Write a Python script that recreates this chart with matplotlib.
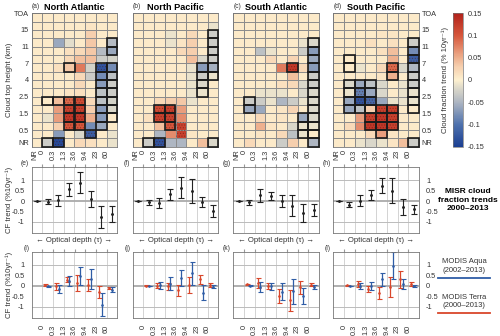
import numpy as np
import matplotlib
matplotlib.use("Agg")
import matplotlib.pyplot as plt
from matplotlib.colors import LinearSegmentedColormap
from matplotlib.patches import Rectangle
from matplotlib.lines import Line2D

plt.rcParams['font.family'] = ['Liberation Sans', 'DejaVu Sans']
plt.rcParams['hatch.linewidth'] = 0.5

regions = ["North Atlantic", "North Pacific", "South Atlantic", "South Pacific"]
tau_labels = ["NR", "0", "0.3", "1.3", "3.6", "9.4", "23", "60"]
cth_labels = ["NR", "0.5", "1.5", "2.5", "4", "7", "11", "15", "TOA"]

# MISR CTH-OD trend histograms (% per 10 yr), rows from top (17+ km) down to NR,
# columns NR, 0-0.3, 0.3-1.3, 1.3-3.6, 3.6-9.4, 9.4-23, 23-60, 60+
misr_na = [
    [.005, .005, .005, .005, .005, .005, .005, .005],
    [.005, .005, .005, .005, .005, .010, .005, .005],
    [.005, .005, .005, .005, .005, .030, .005, .005],
    [.005, .005, -.06, -.015, .005, .035, .005, -.045],
    [.005, .005, .005, .015, .020, .035, -.045, -.06],
    [.005, .005, .005, .020, .040, .040, -.030, -.025],
    [.005, .005, .015, .035, .080, -.025, -.13, -.08],
    [.005, .005, .005, .005, .020, -.030, -.08, -.04],
    [.005, .005, .005, .005, .020, .005, -.07, -.03],
    [.005, .005, .005, .010, .015, .005, -.04, -.03],
    [.005, .005, .040, .090, .110, .020, -.04, -.025],
    [.005, .005, .060, .120, .120, .030, -.07, -.02],
    [.005, -.01, .060, .130, .130, .050, -.07, .005],
    [.005, .005, .030, .100, .100, -.080, -.06, .005],
    [.005, .005, -.07, .005, -.02, -.120, .005, -.01],
    [.005, -.03, -.14, .005, .020, .015, .005, -.01],
]
misr_np = [
    [.005, .005, .005, .005, .005, .005, .005, .005],
    [.005, .005, .005, .005, .005, .005, .005, -.01],
    [.005, .005, .005, -.01, .005, .020, .005, -.03],
    [.005, .005, .005, -.01, .010, .030, .005, -.03],
    [.005, .005, .005, .005, .020, .030, .005, -.03],
    [.005, .005, .005, .005, .005, .040, -.02, -.03],
    [.005, .005, .005, .005, .005, -.010, -.07, -.055],
    [.005, .005, .005, .005, .005, -.010, -.03, -.01],
    [.005, .005, .005, .005, .005, -.010, -.02, .005],
    [.005, .005, .005, .005, .005, -.010, -.01, .005],
    [.005, .005, .020, .030, .035, -.010, .005, .005],
    [.005, .005, .110, .120, .060, .005, .005, .005],
    [.005, .015, .120, .120, .070, .005, .005, .005],
    [.005, .005, .040, .100, .120, .005, .005, .005],
    [.005, .005, -.05, .070, .120, .010, .005, .005],
    [.005, -.03, -.13, -.05, -.05, .005, .040, -.02],
]
misr_sa = [
    [.005, .005, .005, .005, .005, .005, .005, .005],
    [.005, .005, .005, .005, .005, .005, .005, .005],
    [.005, .005, .005, .005, .005, .005, .005, .005],
    [.005, .005, .005, .005, .005, .005, -.01, -.02],
    [.005, .005, -.04, -.01, .005, .005, -.03, -.07],
    [.005, .005, .005, .020, .005, .025, .005, -.06],
    [.005, .005, .005, .005, .080, .130, .020, -.07],
    [.005, .005, .005, .005, .005, .040, .005, -.03],
    [.005, .005, .005, .005, .015, .020, -.02, -.03],
    [.005, .005, -.01, -.01, -.01, .005, -.02, -.02],
    [.005, -.03, -.03, -.01, -.05, -.030, -.01, -.02],
    [.005, -.06, -.06, .005, .010, .025, .005, -.02],
    [.005, .005, .020, .005, .010, .005, -.06, -.02],
    [.005, .005, .050, .010, .005, -.020, -.01, -.01],
    [.005, .005, .010, .005, .020, -.040, -.01, .005],
    [.005, .020, .005, .005, -.03, .030, .005, -.05],
]
misr_sp = [
    [.005, .005, .005, .005, .005, .005, .005, .005],
    [.005, .005, .005, .005, .005, .005, .005, .005],
    [.005, .005, .005, .005, .010, .010, .005, .005],
    [.005, .005, .005, .015, .005, .015, .005, -.03],
    [.005, .005, .005, .005, .015, .040, .005, -.08],
    [.005, .005, .005, .005, .005, .050, .005, -.12],
    [.005, .005, -.01, .005, .020, .090, -.02, -.05],
    [.005, .005, .005, .005, .010, .050, .005, -.03],
    [.005, -.02, -.06, -.04, -.02, .005, -.01, -.03],
    [.005, -.01, -.09, -.06, -.02, .005, -.01, -.01],
    [.005, -.06, -.13, -.11, -.06, -.010, -.01, -.01],
    [.005, -.06, -.04, .030, .120, .120, .005, .005],
    [.005, .005, .060, .120, .130, .120, .005, .005],
    [.005, .020, .070, .130, .130, .120, .005, .005],
    [.005, .005, .005, .020, .060, .010, .005, .005],
    [.005, .005, -.01, -.02, -.01, .010, .040, -.03],
]

# significant cells (x), same row/column order
sig_na = ["........", "........", "........", ".......x", ".......x", "........",
          "...x..xx", "......xx", "......xx", "......xx", ".xxxx.xx", "...xx.xx",
          "...xx.xx", "...xx.x.", ".....x..", ".xx....."]
sig_np = ["........", "........", ".......x", ".......x", ".......x", ".......x",
          "......xx", "......xx", "......x.", "......x.", "........", "..xx....",
          "..xx....", "...x....", "........", ".xx....x"]
sig_sa = ["........", "........", "........", ".......x", ".......x", ".......x",
          ".....x.x", ".......x", ".......x", ".......x", ".x.....x", ".x.....x",
          "......xx", "......xx", "......xx", ".......x"]
sig_sp = ["........", "........", "........", ".......x", ".......x", ".x.....x",
          ".x...x.x", ".....x.x", ".xxx...x", ".xxx...x", ".xxx...x", ".xxxxx.x",
          "...xxx..", "...xxx..", "....x...", ".......x"]

# MISR total trends per optical depth bin (NR .. 60+), mean and uncertainty
misr_mean_e = [0.0, -0.03, 0.03, 0.57, 0.89, 0.10, -0.76, -0.64]
misr_err_e = [0.02, 0.13, 0.28, 0.32, 0.50, 0.40, 0.52, 0.38]
misr_mean_f = [0.0, -0.05, -0.10, 0.33, 0.65, 0.47, -0.05, -0.48]
misr_err_f = [0.02, 0.12, 0.25, 0.27, 0.52, 0.57, 0.24, 0.28]
misr_mean_g = [0.0, -0.06, 0.27, 0.25, 0.0, -0.22, -0.58, -0.43]
misr_err_g = [0.02, 0.13, 0.30, 0.18, 0.30, 0.50, 0.45, 0.30]
misr_mean_h = [0.0, -0.17, 0.02, 0.29, 0.73, 0.50, -0.28, -0.40]
misr_err_h = [0.02, 0.13, 0.28, 0.25, 0.36, 0.60, 0.37, 0.22]

# MODIS trends per optical depth bin (0-0.3 .. 60+)
terra_mean_i = [0.03, -0.03, 0.29, 0.14, 0.04, -0.29, -0.10]
terra_err_i = [0.03, 0.17, 0.12, 0.38, 0.29, 0.29, 0.06]
aqua_mean_i = [-0.02, -0.14, 0.22, 0.47, 0.33, -0.90, -0.18]
aqua_err_i = [0.02, 0.19, 0.24, 0.42, 0.47, 0.56, 0.12]
terra_mean_j = [0.01, 0.0, -0.03, -0.22, 0.04, 0.30, 0.03]
terra_err_j = [0.02, 0.13, 0.16, 0.27, 0.37, 0.20, 0.08]
aqua_mean_j = [0.0, 0.02, 0.09, 0.36, 0.60, -0.34, -0.04]
aqua_err_j = [0.01, 0.16, 0.31, 0.37, 0.55, 0.36, 0.07]
terra_mean_k = [0.06, 0.13, 0.0, -0.48, -0.70, -0.08, 0.05]
terra_err_k = [0.03, 0.24, 0.14, 0.33, 0.52, 0.30, 0.08]
aqua_mean_k = [0.0, -0.07, -0.03, -0.28, -0.26, -0.48, -0.06]
aqua_err_k = [0.02, 0.25, 0.16, 0.42, 0.60, 0.37, 0.08]
terra_mean_l = [0.02, 0.08, -0.16, -0.33, -0.06, 0.31, 0.07]
terra_err_l = [0.02, 0.16, 0.14, 0.28, 0.48, 0.40, 0.10]
aqua_mean_l = [0.0, 0.0, -0.01, 0.30, 0.95, 0.10, -0.02]
aqua_err_l = [0.01, 0.14, 0.18, 0.32, 0.65, 0.24, 0.06]

heat = [misr_na, misr_np, misr_sa, misr_sp]
sigs = [sig_na, sig_np, sig_sa, sig_sp]
misr_means = [misr_mean_e, misr_mean_f, misr_mean_g, misr_mean_h]
misr_errs = [misr_err_e, misr_err_f, misr_err_g, misr_err_h]
terra = [(terra_mean_i, terra_err_i), (terra_mean_j, terra_err_j),
         (terra_mean_k, terra_err_k), (terra_mean_l, terra_err_l)]
aqua = [(aqua_mean_i, aqua_err_i), (aqua_mean_j, aqua_err_j),
        (aqua_mean_k, aqua_err_k), (aqua_mean_l, aqua_err_l)]

cmap = LinearSegmentedColormap.from_list("trend", [
    (0.0, '#1B3F92'), (0.167, '#4F72AD'), (0.333, '#AEB6C2'), (0.45, '#E2DDCB'),
    (0.5, '#FDF0CF'), (0.6, '#F6CFAE'), (0.667, '#EEB08E'), (0.833, '#D6573C'),
    (1.0, '#B2221B')])
RED = '#D9472B'
BLUE = '#2F5DA6'
GRID = '#8c8c8c'
TXT = '#333333'
TICK = 5.3
LAB = 5.6
CF_LABEL = "CF trend (%10yr\u207b\u00b9)"

W, H = 500, 336


def box(x0, y0, x1, y1):
    return [x0 / W, 1 - y1 / H, (x1 - x0) / W, (y1 - y0) / H]


fig = plt.figure(figsize=(5, 3.36), dpi=100)
panel_x = [(31.7, 117.3), (132.7, 218.3), (233.3, 319.0), (333.3, 419.0)]
letters_top = ["(a)", "(b)", "(c)", "(d)"]
letters_mid = ["(e)", "(f)", "(g)", "(h)"]
letters_bot = ["(i)", "(j)", "(k)", "(l)"]
ylab_x = -0.215


def style_spines(ax):
    for s in ax.spines.values():
        s.set_color('#777777')
        s.set_linewidth(0.6)


def draw_guides(ax):
    for k in range(1, 8):
        ax.axvline(k, color='#cccccc', lw=0.6, zorder=0)
    ax.axhline(1, color='#bbbbbb', lw=0.7, zorder=0)
    ax.axhline(-1, color='#bbbbbb', lw=0.7, zorder=0)
    ax.axhline(0, color='#aaaaaa', lw=1.3, zorder=0)


for p, (x0, x1) in enumerate(panel_x):
    # ---- MISR histogram ----
    ax = fig.add_axes(box(x0, 13.3, x1, 146.7))
    vals = np.flipud(np.array(heat[p]))
    mesh = ax.pcolormesh(np.arange(9), np.arange(17), vals, cmap=cmap,
                         vmin=-0.15, vmax=0.15, edgecolors=GRID, linewidth=0.4)
    for r, row in enumerate(sigs[p]):
        for c, ch in enumerate(row):
            v = heat[p][r][c]
            if abs(v) >= 0.09:
                ax.add_patch(Rectangle((c, 15 - r), 1, 1, fill=False, lw=0,
                                       hatch='......', ec=(0.3, 0.05, 0.02, 0.4)))
            if ch == 'x':
                ax.add_patch(Rectangle((c, 15 - r), 1, 1, fill=False,
                                       ec='#1a1a1a', lw=1.2, clip_on=False, zorder=3))
    ax.set_xlim(0, 8)
    ax.set_ylim(0, 16)
    ax.set_xticks([0.3, 1, 2, 3, 4, 5, 6, 7])
    ax.set_xticklabels(tau_labels, rotation=90)
    ax.set_yticks([0.5, 2, 4, 6, 8, 10, 12, 14, 16])
    ax.set_yticklabels(cth_labels)
    ax.tick_params(labelsize=TICK, colors=TXT, length=0, pad=2)
    ax.tick_params(axis='y', left=False, right=False, labelleft=(p == 0),
                   labelright=(p == 3))
    style_spines(ax)
    if p == 0:
        ax.set_ylabel("Cloud top height (km)", fontsize=LAB, color=TXT)
        ax.yaxis.set_label_coords(ylab_x, 0.5)
    ax.text(0, 1.025, letters_top[p], transform=ax.transAxes, fontsize=4.8,
            color=TXT, ha='left', va='bottom')
    ax.set_title(regions[p], fontsize=6.6, fontweight='bold', pad=2.5)

    # ---- MISR totals ----
    ax = fig.add_axes(box(x0, 166.7, x1, 233.3))
    draw_guides(ax)
    xs = np.arange(8) + 0.5
    ax.errorbar(xs, misr_means[p], yerr=misr_errs[p], fmt='.', ms=2.2,
                color='#222222', elinewidth=0.8, capsize=2, capthick=0.8)
    ax.set_xlim(0, 8)
    ax.set_ylim(-1.55, 1.65)
    ax.set_xticks(range(1, 8))
    ax.set_yticks([-1, -0.5, 0, 0.5, 1])
    ax.set_yticklabels(["-1", "-0.5", "0", "0.5", "1"])
    ax.tick_params(axis='x', bottom=False, top=True, direction='out', length=2.5,
                   color='#999999', labelbottom=False)
    ax.tick_params(axis='y', left=False, right=False, labelsize=TICK, colors=TXT,
                   labelleft=(p == 0), labelright=(p == 3), pad=1.5)
    style_spines(ax)
    ax.set_xlabel("\u2190 Optical depth (\u03c4) \u2192", fontsize=LAB, color=TXT,
                  labelpad=3)
    if p == 0:
        ax.set_ylabel(CF_LABEL, fontsize=LAB, color=TXT)
        ax.yaxis.set_label_coords(ylab_x, 0.5)
    ax.text(-0.03, 1.0, letters_mid[p], transform=ax.transAxes, fontsize=4.8,
            color=TXT, ha='right', va='bottom')

    # ---- MODIS totals ----
    ax = fig.add_axes(box(x0, 251.7, x1, 318.3))
    draw_guides(ax)
    cols = np.arange(1, 8)
    ax.errorbar(cols + 0.27, terra[p][0], yerr=terra[p][1], fmt='.', ms=1.8,
                color=RED, elinewidth=0.9, capsize=1.8, capthick=0.8)
    ax.errorbar(cols + 0.53, aqua[p][0], yerr=aqua[p][1], fmt='.', ms=1.8,
                color=BLUE, elinewidth=0.9, capsize=1.8, capthick=0.8)
    ax.set_xlim(0, 8)
    ax.set_ylim(-1.55, 1.62)
    ax.set_xticks(range(1, 8))
    ax.set_xticklabels(tau_labels[1:], rotation=90)
    ax.set_yticks([-1, -0.5, 0, 0.5, 1])
    ax.set_yticklabels(["-1", "-0.5", "0", "0.5", "1"])
    ax.tick_params(axis='x', bottom=False, top=True, direction='out', length=2.5,
                   color='#999999', labelsize=TICK, labelcolor=TXT, pad=2)
    ax.tick_params(axis='y', left=False, right=False, labelsize=TICK, colors=TXT,
                   labelleft=(p == 0), labelright=(p == 3), pad=1.5)
    style_spines(ax)
    if p == 0:
        ax.set_ylabel(CF_LABEL, fontsize=LAB, color=TXT)
        ax.yaxis.set_label_coords(ylab_x, 0.5)
    ax.text(-0.03, 1.0, letters_bot[p], transform=ax.transAxes, fontsize=4.8,
            color=TXT, ha='right', va='bottom')

# colorbar
cax = fig.add_axes(box(452.7, 13.3, 463.3, 146.7))
cb = fig.colorbar(mesh, cax=cax, ticks=[-0.15, -0.1, -0.05, 0, 0.05, 0.1, 0.15])
cb.ax.set_yticklabels(["-0.15", "-0.1", "-0.05", "0", "0.05", "0.1", "0.15"])
cb.ax.tick_params(labelsize=TICK, colors=TXT, length=0, pad=3)
cb.outline.set_linewidth(0.5)
cb.outline.set_edgecolor('#777777')
cb.ax.yaxis.set_label_position('left')
cb.set_label("Cloud fraction trend (% 10yr\u207b\u00b9)", fontsize=LAB, color=TXT,
             labelpad=3)

fig.text(468 / W, 1 - 200 / H, "MISR cloud\nfraction trends\n2000\u20132013",
         ha='center', va='center', fontsize=6.0, fontweight='bold', linespacing=1.25)

fig.text(464 / W, 1 - 266 / H, "MODIS Aqua\n(2002\u20132013)", ha='center',
         va='center', fontsize=5.5, color=TXT, linespacing=1.3)
fig.add_artist(Line2D([438 / W, 490 / W], [1 - 278.3 / H] * 2, color=BLUE, lw=1.3))
fig.text(464 / W, 1 - 301.5 / H, "MODIS Terra\n(2000\u20132013)", ha='center',
         va='center', fontsize=5.5, color=TXT, linespacing=1.3)
fig.add_artist(Line2D([438 / W, 490 / W], [1 - 313.3 / H] * 2, color=RED, lw=1.3))

fig.savefig("out.png", dpi=100)
